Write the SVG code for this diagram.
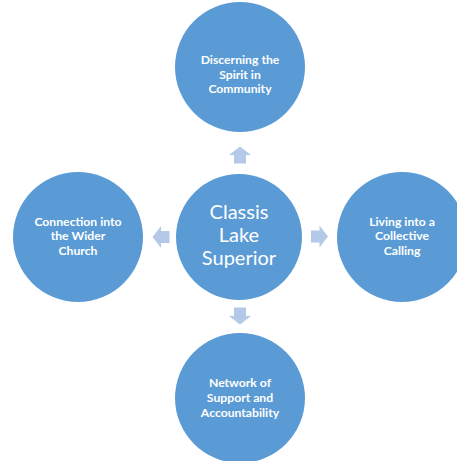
<svg xmlns="http://www.w3.org/2000/svg" width="457" height="461" viewBox="0 0 457 461">
  <defs>
    <style>
      .node { fill: #5B9BD5; }
      .lbl { fill: #FFFFFF; font-family: Lato, "Liberation Sans", sans-serif; font-weight: bold; font-size: 12.2px; text-anchor: middle; }
      .ctr { fill: #FFFFFF; font-family: Lato, "Liberation Sans", sans-serif; font-size: 20px; text-anchor: middle; }
      .arr { fill: #B4C8E7; }
    </style>
    <path id="arrowR" d="M-8.5,-6 L0,-6 L0,-11 L8.5,0 L0,11 L0,6 L-8.5,6 Z"/>
  </defs>
  <rect width="457" height="461" fill="#FFFFFF"/>
  <g id="connectors">
    <use href="#arrowR" class="arr" transform="translate(240,155) rotate(-90)"/>
    <use href="#arrowR" class="arr" transform="translate(319.5,236.5)"/>
    <use href="#arrowR" class="arr" transform="translate(240,316) rotate(90)"/>
    <use href="#arrowR" class="arr" transform="translate(161,237) rotate(180)"/>
  </g>
  <g id="center">
    <circle class="node" cx="239" cy="237" r="63"/>
    <text class="ctr" x="239" y="219">Classis</text>
    <text class="ctr" x="239" y="242">Lake</text>
    <text class="ctr" x="239" y="265">Superior</text>
  </g>
  <g id="top">
    <circle class="node" cx="240" cy="67" r="65"/>
    <text class="lbl" x="240" y="64">Discerning the</text>
    <text class="lbl" x="240" y="78.5">Spirit in</text>
    <text class="lbl" x="240" y="93">Community</text>
  </g>
  <g id="left">
    <circle class="node" cx="78" cy="237" r="65"/>
    <text class="lbl" x="78" y="225.5">Connection into</text>
    <text class="lbl" x="78" y="240">the Wider</text>
    <text class="lbl" x="78" y="254.5">Church</text>
  </g>
  <g id="right">
    <circle class="node" cx="402" cy="237" r="65"/>
    <text class="lbl" x="402" y="225.5">Living into a</text>
    <text class="lbl" x="402" y="240">Collective</text>
    <text class="lbl" x="402" y="254.5">Calling</text>
  </g>
  <g id="bottom">
    <circle class="node" cx="240" cy="398" r="65"/>
    <text class="lbl" x="240" y="387">Network of</text>
    <text class="lbl" x="240" y="402">Support and</text>
    <text class="lbl" x="240" y="417">Accountability</text>
  </g>
</svg>
